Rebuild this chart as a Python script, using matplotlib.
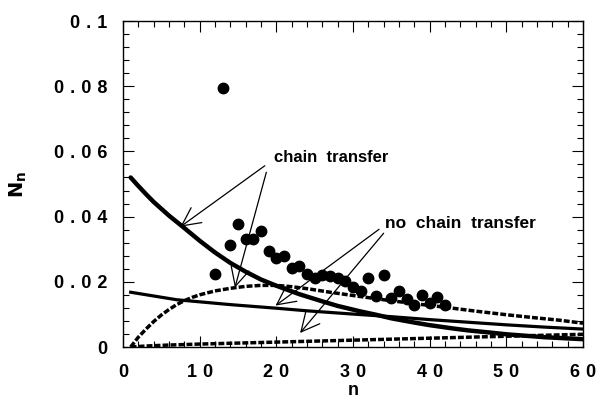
import numpy as np
import matplotlib
matplotlib.use('Agg')
import matplotlib.pyplot as plt
from matplotlib.ticker import MultipleLocator

plt.rcParams['font.family'] = ['Liberation Sans', 'DejaVu Sans']
plt.rcParams['font.weight'] = 'bold'

# measured points
n_data = [12, 13, 14, 15, 16, 17, 18, 19, 20, 21, 22, 23, 24, 25, 26, 27,
          28, 29, 30, 31, 32, 33, 34, 35, 36, 37, 38, 39, 40, 41, 42]
N_data = [0.0223, 0.0794, 0.0313, 0.0377, 0.0330, 0.0330, 0.0357, 0.0296,
          0.0272, 0.0279, 0.0241, 0.0248, 0.0224, 0.0211, 0.0221, 0.0218,
          0.0213, 0.0203, 0.0185, 0.0173, 0.0213, 0.0156, 0.0221, 0.0149,
          0.0173, 0.0147, 0.0129, 0.0160, 0.0134, 0.0152, 0.0129]

# chain transfer, thick solid
n_ct = [1, 2, 3, 4, 6, 8, 10, 12, 14, 16, 18, 20, 23, 26, 28, 31, 33, 35,
        38, 40, 43, 45, 48, 50, 55, 60]
N_ct = [0.0520, 0.0494, 0.0469, 0.0445, 0.0403, 0.0365, 0.0326, 0.0290,
        0.0258, 0.0231, 0.0207, 0.0188, 0.0162, 0.0140, 0.0126, 0.0109,
        0.0099, 0.0088, 0.0075, 0.0067, 0.0057, 0.0051, 0.0044, 0.0039,
        0.0030, 0.0024]

# thin solid
n_s2 = [1, 7, 14, 20, 24, 30, 35, 40, 45, 50, 55, 60]
N_s2 = [0.0168, 0.0145, 0.0130, 0.0119, 0.0111, 0.0101, 0.0093, 0.0084,
        0.0076, 0.0068, 0.0061, 0.0055]

# upper dashed
n_d1 = [1, 2, 3, 4, 5, 6, 7, 8, 9, 10, 12, 14, 16, 18, 20, 22, 24, 27,
        30, 34, 38, 42, 46, 50, 54, 57, 60]
N_d1 = [0.0, 0.0030, 0.0055, 0.0078, 0.0098, 0.0115, 0.0130, 0.0142,
        0.0152, 0.0160, 0.0172, 0.0180, 0.0186, 0.0189, 0.0189, 0.0185,
        0.0179, 0.0168, 0.0158, 0.0145, 0.0133, 0.0122, 0.0110, 0.0099,
        0.0089, 0.0082, 0.0073]

# lower dashed
n_d2 = [1, 3, 6, 10, 15, 20, 25, 30, 35, 40, 45, 50, 55, 60]
N_d2 = [0.0, 0.0003, 0.0006, 0.0009, 0.0012, 0.0015, 0.0018, 0.0021,
        0.0024, 0.0027, 0.0030, 0.0033, 0.0036, 0.0039]

sp_ = '\u2004'
x_ticks = [0, 10, 20, 30, 40, 50, 60]
y_ticks = [0, 0.02, 0.04, 0.06, 0.08, 0.1]
x_labels = ['0', '1 0', '2 0', '3 0', '4 0', '5 0', '6 0']
y_labels = ['0', '0 . 0 2', '0 . 0 4', '0 . 0 6', '0 . 0 8', '0 . 1']
x_labels = [s.replace(' ', sp_) for s in x_labels]
y_labels = [s.replace(' ', sp_) for s in y_labels]

fig = plt.figure(figsize=(6.04, 4.0), dpi=100)
ax = fig.add_axes([0.2036, 0.1325, 0.7616, 0.815])

dash = (0, (1.7, 0.6))
ax.plot(n_ct, N_ct, color='black', lw=3.2, solid_capstyle='round')
ax.plot(n_s2, N_s2, color='black', lw=2.3)
ax.plot(n_d1, N_d1, color='black', lw=2.5, linestyle=dash)
ax.plot(n_d2, N_d2, color='black', lw=2.5, linestyle=dash)
ax.plot(n_data, N_data, 'o', color='black', markersize=7.5, zorder=3)

ax.set_xlim(0, 60)
ax.set_ylim(0, 0.1)
ax.set_xticks(x_ticks)
ax.set_xticklabels(x_labels)
ax.set_yticks(y_ticks)
ax.set_yticklabels(y_labels)
ax.xaxis.set_minor_locator(MultipleLocator(2))
ax.yaxis.set_minor_locator(MultipleLocator(0.004))
ax.tick_params(which='both', direction='in', top=True, right=True,
               width=0.8, labelsize=13)
ax.tick_params(which='major', length=8)
ax.tick_params(which='minor', length=4)
ax.tick_params(axis='x', pad=12)
ax.tick_params(axis='y', pad=11)
for sp in ax.spines.values():
    sp.set_linewidth(1.0)

ax.set_xlabel('n', fontsize=13, fontweight='bold', labelpad=1)
ax.set_ylabel(r'$\mathbf{N}_\mathbf{n}$', fontsize=14, labelpad=18)

arrow = dict(arrowstyle='->,head_length=0.6,head_width=0.3', lw=0.9,
             color='black', shrinkA=0, shrinkB=0, mutation_scale=22)
ax.text(19.7, 0.058, 'chain  transfer', fontsize=12, fontweight='bold',
        va='center', ha='left')
ax.annotate('', xy=(7.5, 0.0369), xytext=(18.5, 0.0556), arrowprops=arrow)
ax.annotate('', xy=(14.6, 0.0182), xytext=(18.7, 0.0536), arrowprops=arrow)

ax.text(34.2, 0.038, 'no  chain  transfer', fontsize=12.5, fontweight='bold',
        va='center', ha='left')
ax.annotate('', xy=(19.9, 0.0127), xytext=(33.4, 0.0361), arrowprops=arrow)
ax.annotate('', xy=(23.1, 0.0043), xytext=(34.0, 0.0349), arrowprops=arrow)

fig.savefig('out.png', dpi=100)
